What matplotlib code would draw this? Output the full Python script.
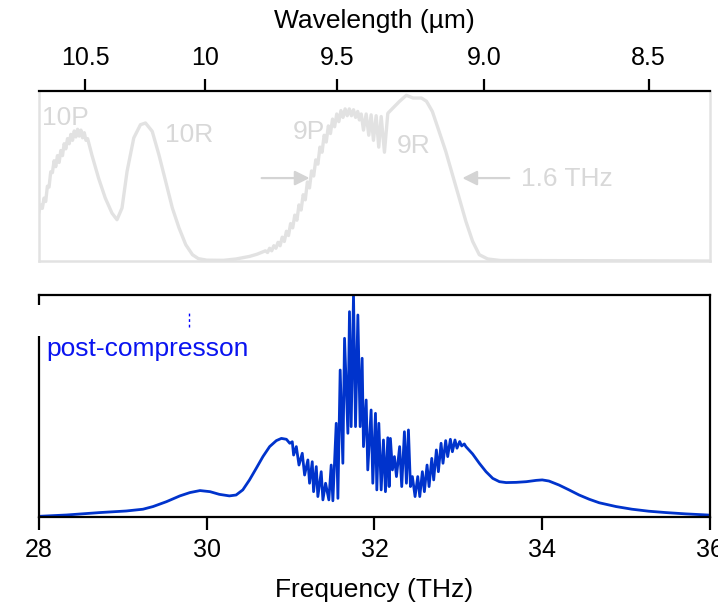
import numpy as np
import matplotlib
matplotlib.use("Agg")
import matplotlib.pyplot as plt
from matplotlib.patches import Rectangle

plt.rcParams['font.family'] = ['Liberation Sans', 'DejaVu Sans']

# gain spectrum of the CO2 amplifier (top, normalised)
gain_freq = [28.00, 28.02, 28.04, 28.06, 28.08, 28.10, 28.12, 28.14, 28.16, 28.18,
             28.20, 28.22, 28.24, 28.26, 28.28, 28.30, 28.32, 28.34, 28.36, 28.38,
             28.40, 28.42, 28.44, 28.46, 28.48, 28.50, 28.52, 28.54, 28.56, 28.58,
             28.63, 28.71, 28.79, 28.87, 28.93, 28.99, 29.05, 29.13, 29.21, 29.27,
             29.35, 29.43, 29.51, 29.59, 29.67, 29.75, 29.83, 29.90, 30.00, 30.20,
             30.35, 30.51, 30.60,
             30.70, 30.725, 30.75, 30.775, 30.80, 30.825, 30.85, 30.875, 30.90, 30.925,
             30.95, 30.975, 31.00, 31.025, 31.05, 31.075, 31.10, 31.125, 31.15, 31.175,
             31.20, 31.225, 31.25, 31.275, 31.30, 31.325, 31.35, 31.375, 31.40, 31.425,
             31.45, 31.475, 31.50, 31.525, 31.55, 31.575, 31.60, 31.625, 31.65, 31.675,
             31.70, 31.725, 31.75, 31.775, 31.80, 31.82,
             31.842, 31.869, 31.901, 31.932, 31.96, 31.988,
             32.02, 32.051, 32.08, 32.119, 32.159, 32.22, 32.30, 32.38, 32.46, 32.56,
             32.62, 32.69, 32.77, 32.85, 32.93, 33.01, 33.09, 33.17, 33.25, 33.35,
             33.50, 36.00]
gain_val = [0.29, 0.33, 0.31, 0.37, 0.35, 0.44, 0.435, 0.525, 0.52, 0.59,
            0.555, 0.62, 0.58, 0.65, 0.62, 0.69, 0.66, 0.72, 0.69, 0.745,
            0.71, 0.765, 0.73, 0.775, 0.735, 0.77, 0.725, 0.755, 0.71, 0.72,
            0.625, 0.488, 0.371, 0.282, 0.243, 0.312, 0.527, 0.724, 0.802, 0.812,
            0.763, 0.625, 0.469, 0.312, 0.194, 0.096, 0.037, 0.014, 0.005, 0.004,
            0.012, 0.027, 0.04,
            0.06, 0.05, 0.075, 0.06, 0.09, 0.075, 0.11, 0.09, 0.14, 0.115,
            0.175, 0.15, 0.22, 0.195, 0.27, 0.24, 0.33, 0.30, 0.39, 0.36,
            0.465, 0.43, 0.53, 0.50, 0.595, 0.57, 0.67, 0.64, 0.74, 0.70,
            0.795, 0.75, 0.835, 0.79, 0.865, 0.82, 0.885, 0.845, 0.895, 0.855,
            0.895, 0.855, 0.89, 0.845, 0.88, 0.83,
            0.865, 0.77, 0.865, 0.74, 0.86, 0.71,
            0.855, 0.67, 0.85, 0.64, 0.869, 0.90, 0.94, 0.975, 0.959, 0.959,
            0.94, 0.88, 0.763, 0.645, 0.508, 0.371, 0.233, 0.116, 0.037, 0.012,
            0.003, 0.0]

# post-compression spectrum (bottom, normalised)
post_freq = [28.00, 28.33, 28.73, 29.04, 29.24, 29.36, 29.52, 29.68, 29.80, 29.92,
             30.04, 30.15, 30.27, 30.35, 30.43, 30.51, 30.59, 30.67, 30.75, 30.83,
             30.89, 30.95, 30.99, 31.02, 31.036, 31.068, 31.10,
             31.139, 31.167, 31.206, 31.226, 31.258, 31.274, 31.306, 31.325, 31.365, 31.385,
             31.417, 31.456, 31.484, 31.504, 31.544, 31.564, 31.591, 31.623, 31.643, 31.683,
             31.702, 31.722, 31.75, 31.774, 31.802, 31.829, 31.853, 31.869, 31.901, 31.92,
             31.96, 31.98, 32.012, 32.028, 32.052, 32.08, 32.107, 32.131, 32.159, 32.175,
             32.19, 32.214, 32.238, 32.262, 32.30, 32.325, 32.357, 32.381, 32.405, 32.429,
             32.452, 32.484, 32.516, 32.54, 32.571, 32.595, 32.627, 32.651, 32.683, 32.706,
             32.738, 32.762, 32.794, 32.817, 32.849, 32.873, 32.905, 32.929, 32.96, 32.984,
             33.016, 33.04, 33.071, 33.09, 33.17, 33.25, 33.33, 33.41, 33.49, 33.57,
             33.69, 33.81, 33.93, 34.00, 34.08, 34.20, 34.32, 34.44, 34.56, 34.68,
             34.88, 35.07, 35.27, 35.47, 35.71, 35.97, 36.00]
post_val = [0.003, 0.009, 0.02, 0.027, 0.035, 0.047, 0.069, 0.095, 0.110, 0.119,
            0.114, 0.102, 0.095, 0.099, 0.122, 0.167, 0.219, 0.272, 0.317, 0.344,
            0.354, 0.35, 0.332, 0.339, 0.279, 0.317, 0.234,
            0.287, 0.189, 0.257, 0.152, 0.249, 0.114, 0.227, 0.092, 0.204, 0.077,
            0.152, 0.077, 0.234, 0.073, 0.422, 0.084, 0.662, 0.242, 0.805, 0.377,
            0.925, 0.407, 1.0, 0.407, 0.91, 0.407, 0.715, 0.317, 0.527, 0.212,
            0.482, 0.152, 0.467, 0.122, 0.422, 0.122, 0.347, 0.114, 0.357, 0.137,
            0.354, 0.212, 0.272, 0.182, 0.317, 0.137, 0.384, 0.152, 0.392, 0.137,
            0.182, 0.092, 0.182, 0.092, 0.204, 0.114, 0.234, 0.137, 0.264, 0.167,
            0.302, 0.204, 0.332, 0.242, 0.344, 0.272, 0.35, 0.294, 0.347, 0.31,
            0.34, 0.32, 0.329, 0.317, 0.284, 0.242, 0.204, 0.174, 0.159, 0.155,
            0.156, 0.159, 0.165, 0.167, 0.162, 0.144, 0.122, 0.099, 0.080, 0.064,
            0.047, 0.035, 0.026, 0.02, 0.014, 0.009, 0.008]

freq_ticks = [28, 30, 32, 34, 36]
wl_ticks = [10.5, 10.0, 9.5, 9.0, 8.5]
wl_labels = ["10.5", "10", "9.5", "9.0", "8.5"]
C_UM_THZ = 299.792458

gray = "#e2e2e2"
txt_gray = "#d8d8d8"

fig = plt.figure(figsize=(7.18, 6.07), dpi=100)
ax1 = fig.add_axes([0.0543, 0.570, 0.9345, 0.280])
ax2 = fig.add_axes([0.0543, 0.1483, 0.9345, 0.3657])

# ---- top panel
ax1.plot(gain_freq, gain_val, color=gray, lw=2.4, solid_joinstyle="round")
ax1.set_xlim(28, 36)
ax1.set_ylim(0, 1)
ax1.set_yticks([])
for s in ["left", "right", "bottom"]:
    ax1.spines[s].set_color(gray)
    ax1.spines[s].set_linewidth(1.8)
ax1.spines["top"].set_linewidth(1.6)
ax1.xaxis.tick_top()
ax1.xaxis.set_label_position("top")
ax1.set_xticks([C_UM_THZ / w for w in wl_ticks])
ax1.set_xticklabels(wl_labels)
ax1.tick_params(axis="x", direction="out", length=9, width=1.6, labelsize=18, pad=6)
ax1.set_xlabel("Wavelength (\u00b5m)", fontsize=19, labelpad=13)

ax1.text(28.036, 0.841, "10P", color=txt_gray, fontsize=19, va="center")
ax1.text(29.50, 0.741, "10R", color=txt_gray, fontsize=19, va="center")
ax1.text(31.024, 0.759, "9P", color=txt_gray, fontsize=19, va="center")
ax1.text(32.262, 0.676, "9R", color=txt_gray, fontsize=19, va="center")
ax1.text(33.75, 0.482, "1.6 THz", color=txt_gray, fontsize=19, va="center")
arrow = dict(arrowstyle="-|>", color="#d4d4d4", lw=1.6, mutation_scale=22,
             shrinkA=0, shrinkB=0)
ax1.annotate("", xy=(31.226, 0.488), xytext=(30.655, 0.488), arrowprops=arrow)
ax1.annotate("", xy=(33.048, 0.488), xytext=(33.607, 0.488), arrowprops=arrow)

# ---- bottom panel
ax2.plot(post_freq, post_val, color="#0033cc", lw=2.0)
ax2.set_xlim(28, 36)
ax2.set_ylim(0, 1)
ax2.set_yticks([])
for s in ax2.spines.values():
    s.set_linewidth(1.6)
ax2.set_xticks(freq_ticks)
ax2.set_xticklabels([str(t) for t in freq_ticks])
ax2.tick_params(axis="x", direction="out", length=9, width=1.6, labelsize=18, pad=6)
ax2.set_xlabel("Frequency (THz)", fontsize=19, labelpad=12)

# leftover legend box covering part of the frame
ax2.add_patch(Rectangle((-0.02, 0.815), 0.23, 0.14, transform=ax2.transAxes,
                        facecolor="white", edgecolor="none", clip_on=False, zorder=5))
ax2.plot([0.2235, 0.2235], [0.855, 0.92], transform=ax2.transAxes, color="blue",
         lw=1.0, ls=(0, (2, 2)), clip_on=False, zorder=6)
ax2.text(0.011, 0.755, "post-compresson", transform=ax2.transAxes, color="#0a14f0",
         fontsize=19, va="center", zorder=7)

fig.savefig("out.png", dpi=100)
